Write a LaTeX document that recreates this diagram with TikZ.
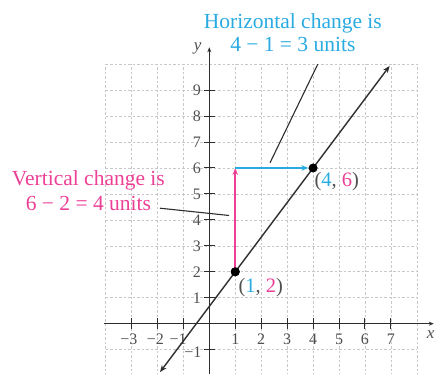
\documentclass[tikz,border=0pt]{standalone}
\usepackage{fontspec}
\setmainfont{Liberation Serif}
\usetikzlibrary{arrows.meta}
\definecolor{cyanc}{RGB}{41,171,226}
\definecolor{pinkc}{RGB}{236,64,150}
\definecolor{axisc}{RGB}{45,45,45}
\definecolor{gridc}{RGB}{200,200,200}
\definecolor{tickc}{RGB}{80,80,80}
\tikzset{
  gridline/.style={gridc, line width=0.6pt, dash pattern=on 2.5pt off 2pt},
  axisline/.style={axisc, line width=1.3pt},
  tickline/.style={axisc, line width=1pt},
  ticklab/.style={tickc, font=\fontsize{16}{16}\selectfont, inner sep=0pt},
  calltext/.style={font=\fontsize{21.5}{22}\selectfont, inner sep=0pt, anchor=base},
  ptlab/.style={tickc, font=\fontsize{20.5}{20.5}\selectfont, inner sep=0pt, anchor=west},
  dot/.style={circle, fill=black, inner sep=0pt, minimum size=9pt},
  leader/.style={axisc, line width=1.1pt},
  tip/.style={-{Stealth[length=7pt, width=5.5pt]}}
}
\begin{document}
\begin{tikzpicture}[x=25.95pt, y=25.95pt]
\useasboundingbox (-8.066,-1.938) rectangle (8.775,12.474);
\begin{scope}
\clip (-8.066,-1.938) rectangle (8.775,12.474);
% grid
\foreach \i in {-4,...,8} \draw[gridline] (\i,-2) -- (\i,10);
\foreach \j in {-2,...,10} \draw[gridline] (-4,\j) -- (8,\j);
% axes
\draw[axisline, -{Stealth[length=5pt, width=4pt]}] (-4.05,0) -- (8.65,0);
\draw[axisline, -{Stealth[length=5pt, width=4pt]}] (0,-2.2) -- (0,10.65);
% ticks
\foreach \i in {-3,-2,-1,1,2,...,7} \draw[tickline] (\i,-0.2) -- (\i,0.2);
\foreach \j in {-1,1,2,...,9} \draw[tickline] (-0.22,\j) -- (0.22,\j);
\end{scope}
% tick labels
\node[ticklab, anchor=north] (xm3) at (-3.1,-0.38) {−3};
\node[ticklab, anchor=north] (xm2) at (-2.08,-0.38) {−2};
\node[ticklab, anchor=north] (xm1) at (-1.2,-0.38) {−1};
\foreach \i in {1,...,7} \node[ticklab, anchor=north] (x\i) at (\i,-0.38) {\i};
\foreach \j in {1,...,9} \node[ticklab, anchor=east] (y\j) at (-0.32,\j) {\j};
\node[ticklab, anchor=east] (ym1) at (-0.3,-1.1) {−1};
\node[tickc, font=\itshape\fontsize{17}{17}\selectfont, inner sep=0pt] (xlab) at (8.53,-0.44) {x};
\node[tickc, font=\itshape\fontsize{17}{17}\selectfont, inner sep=0pt] (ylab) at (-0.45,10.62) {y};
% the line
\coordinate (lA) at (-1.9,-1.867);
\coordinate (lB) at (6.95,9.933);
\draw[axisc, line width=1.4pt, {Stealth[length=7pt, width=5.5pt]}-{Stealth[length=7pt, width=5.5pt]}] (lA) -- (lB);
% change arrows
\coordinate (c16) at (1,6);
\node[dot] (p12) at (1,2) {};
\node[dot] (p46) at (4,6) {};
\draw[pinkc, line width=1.9pt, tip] (p12.center) -- (c16);
\draw[cyanc, line width=1.4pt, tip] (c16) -- (p46);
\node[dot] (p12top) at (1,2) {};
% point labels
\node[ptlab] (l12) at (1.12,1.41) {(\textcolor{cyanc}{1}, \textcolor{pinkc}{2})};
\node[ptlab] (l46) at (4.05,5.46) {(\textcolor{cyanc}{4}, \textcolor{pinkc}{6})};
% callouts
\node[calltext, text=cyanc] (h1) at (3.22,11.38) {Horizontal change is};
\node[calltext, text=cyanc] (h2) at (3.22,10.48) {4 − 1 = 3 units};
\node[calltext, text=pinkc] (v1) at (-4.66,5.32) {Vertical change is};
\node[calltext, text=pinkc] (v2) at (-4.66,4.38) {6 − 2 = 4 units};
\coordinate (hA) at (4.18,10.0);
\coordinate (hB) at (2.34,6.2);
\coordinate (vA) at (-1.9,4.45);
\coordinate (vB) at (0.76,4.17);
\draw[leader] (hA) -- (hB);
\draw[leader] (vA) -- (vB);
\end{tikzpicture}
\end{document}
